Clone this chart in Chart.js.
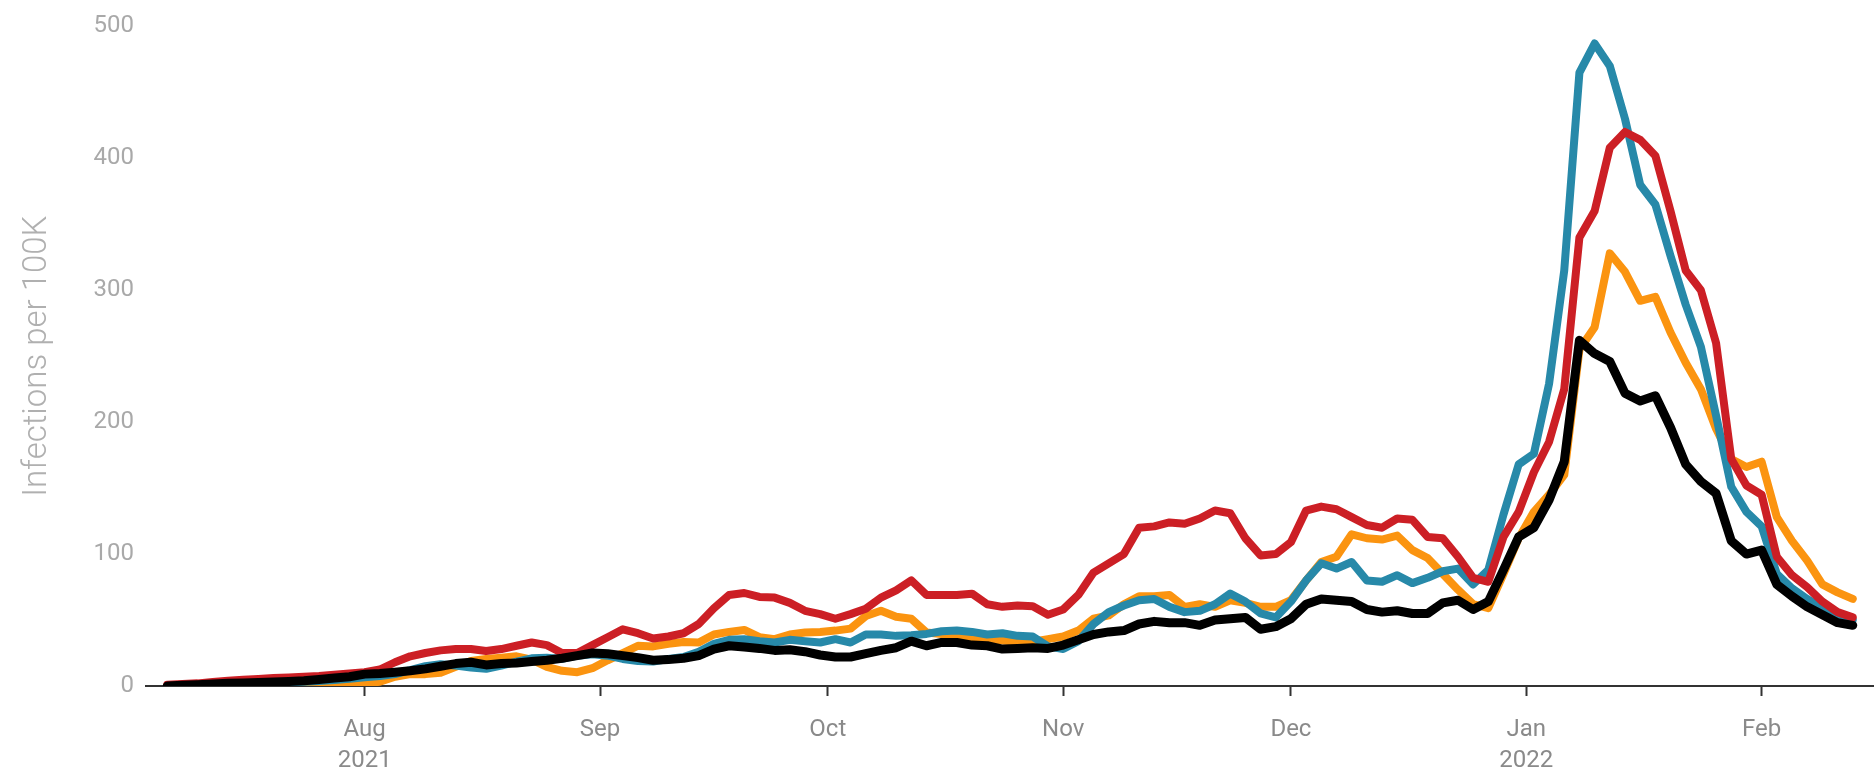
<!DOCTYPE html>
<html>
<head>
<meta charset="utf-8">
<script src="https://cdn.jsdelivr.net/npm/chart.js@4.4.1/dist/chart.umd.min.js"></script>
<style>
  html, body { margin: 0; padding: 0; background: #fff; }
  #wrap { width: 1874px; height: 775px; position: relative; }
</style>
</head>
<body>
<div id="wrap"><canvas id="infections"></canvas></div>
<script>
// one reading every second day, 6 Jul 2021 - 13 Feb 2022
const dates = [
  '2021-07-06','2021-07-08','2021-07-10','2021-07-12','2021-07-14','2021-07-16','2021-07-18','2021-07-20','2021-07-22','2021-07-24','2021-07-26','2021-07-28','2021-07-30',
  '2021-08-01','2021-08-03','2021-08-05','2021-08-07','2021-08-09','2021-08-11','2021-08-13','2021-08-15','2021-08-17','2021-08-19','2021-08-21','2021-08-23','2021-08-25','2021-08-27','2021-08-29','2021-08-31',
  '2021-09-02','2021-09-04','2021-09-06','2021-09-08','2021-09-10','2021-09-12','2021-09-14','2021-09-16','2021-09-18','2021-09-20','2021-09-22','2021-09-24','2021-09-26','2021-09-28','2021-09-30',
  '2021-10-02','2021-10-04','2021-10-06','2021-10-08','2021-10-10','2021-10-12','2021-10-14','2021-10-16','2021-10-18','2021-10-20','2021-10-22','2021-10-24','2021-10-26','2021-10-28','2021-10-30',
  '2021-11-01','2021-11-03','2021-11-05','2021-11-07','2021-11-09','2021-11-11','2021-11-13','2021-11-15','2021-11-17','2021-11-19','2021-11-21','2021-11-23','2021-11-25','2021-11-27','2021-11-29',
  '2021-12-01','2021-12-03','2021-12-05','2021-12-07','2021-12-09','2021-12-11','2021-12-13','2021-12-15','2021-12-17','2021-12-19','2021-12-21','2021-12-23','2021-12-25','2021-12-27','2021-12-29','2021-12-31',
  '2022-01-02','2022-01-04','2022-01-06','2022-01-08','2022-01-10','2022-01-12','2022-01-14','2022-01-16','2022-01-18','2022-01-20','2022-01-22','2022-01-24','2022-01-26','2022-01-28','2022-01-30',
  '2022-02-01','2022-02-03','2022-02-05','2022-02-07','2022-02-09','2022-02-11','2022-02-13'
];

const seriesBlack = [
  0, 0.5, 1, 1.5, 2, 2.3, 2.6, 3, 3.5, 4, 5, 6, 7,
  9, 9.5, 10.5, 11.5, 13, 15, 17, 18, 16, 17, 17.5, 18.5, 19.5, 21, 23, 25,
  24.5, 23, 21.5, 19.5, 20, 21, 23, 28, 30.5, 29.5, 28.5, 27, 27.5, 26, 23.5,
  22, 22, 24.5, 27, 29, 34, 30.5, 33, 33, 31, 30.5, 28, 28.5, 29, 28.5,
  31, 35, 39, 41, 42, 47, 49, 48, 48, 46, 50, 51, 52, 43, 45,
  51, 62, 66, 65, 64, 58, 56, 57, 55, 55, 63, 65, 58, 64, 88, 113,
  120, 141, 170, 262, 252, 246, 222, 216, 220, 196, 168, 155, 146, 110, 100,
  103, 77, 68, 60, 54, 48, 46
];

const seriesRed = [
  1, 1.5, 2, 3, 4, 4.7, 5.3, 6, 6.5, 7, 7.5, 8.5, 9.5,
  10.5, 12.5, 18, 22.5, 25, 27, 28, 28, 26.5, 28, 30.5, 33, 31, 25, 25, 31,
  37, 43, 40, 36, 37.5, 40, 47, 59, 69, 70.5, 67.5, 67, 63, 57, 54.5,
  51, 54.5, 58.5, 67, 72.5, 80, 69, 69, 69, 70, 62, 60, 61, 60.5, 54,
  58, 69, 86, 93, 100, 120, 121, 124, 123, 127, 133, 131, 112, 99, 100,
  109, 133, 136, 134, 128, 122, 120, 127, 126, 113, 112, 98, 82, 79, 113, 132,
  162, 185, 225, 340, 360, 408, 420, 414, 402, 360, 315, 300, 260, 172, 152,
  145, 98, 84, 75, 64, 56, 52
];

const seriesBlue = [
  0, 0.3, 0.6, 1, 1.3, 1.6, 2, 2.4, 2.8, 3.2, 3.8, 4.5, 5.5,
  6.7, 7.5, 9, 12, 15, 16.5, 15.5, 14, 13, 15.5, 18.5, 21, 21.5, 20.5, 23, 24,
  23, 20.5, 19, 18.5, 20.5, 22, 26, 32, 35, 35.5, 34, 33, 35, 34, 33,
  35.5, 33, 39, 39, 38, 38.5, 39.5, 41.5, 42, 41, 39, 40, 38, 37.5, 30,
  28, 34, 47, 56, 61, 65, 66, 60, 56, 57, 62, 70, 64, 55, 52,
  64, 80, 93, 89, 94, 80, 79, 84, 78, 82, 87, 89, 77, 88, 130, 168,
  176, 229, 315, 465, 487, 470, 430, 380, 365, 326, 289, 257, 205, 151, 132,
  121, 85, 74, 66, 59, 53, 50
];

const seriesOrange = [
  0, 0.3, 0.6, 1, 1.2, 1.4, 1.5, 1.5, 1.2, 0.8, 0.3, 0, 0.5,
  2, 3.2, 7, 9, 9, 10, 14.5, 19, 20.4, 21.5, 22.5, 20, 14.5, 11.5, 10.5, 13.5,
  19.5, 25, 30.5, 30, 32, 33.4, 33, 39, 41, 42.5, 37, 35.5, 39, 40.5, 41,
  42, 43.5, 53, 57, 52.5, 51, 40.5, 39.5, 37.5, 35.5, 35.5, 34.5, 33.5, 33.5, 35.5,
  37.5, 42, 51, 53.5, 62, 68, 68, 69, 60, 62, 60, 65, 63, 60, 60,
  65, 80, 94, 98, 115, 112, 111, 114, 103, 97, 85, 73, 62, 59, 85, 112,
  132, 145, 160, 255, 272, 328, 314, 292, 295, 268, 245, 225, 195, 172, 166,
  170, 128, 110, 95, 77, 71, 66
];

const monthTicks = ['2021-08-01', '2021-09-01', '2021-10-01', '2021-11-01', '2021-12-01', '2022-01-01', '2022-02-01'];
const monthTickLabels = [['Aug', '2021'], 'Sep', 'Oct', 'Nov', 'Dec', ['Jan', '2022'], 'Feb'];

const dayZero = Date.parse('2021-07-01');
function dayNumber(iso) {
  return (Date.parse(iso) - dayZero) / 86400000;
}

function toPoints(values) {
  return values.map((v, i) => ({ x: dayNumber(dates[i]), y: v }));
}

function lineSet(label, values, color, width) {
  return {
    label: label,
    data: toPoints(values),
    borderColor: color,
    backgroundColor: color,
    borderWidth: width,
    borderJoinStyle: 'round',
    borderCapStyle: 'round',
    pointRadius: 0,
    tension: 0,
    fill: false
  };
}

Chart.defaults.font.family = 'Roboto, sans-serif';

// first dataset is drawn on top
new Chart(document.getElementById('infections'), {
  type: 'line',
  data: {
    datasets: [
      lineSet('Black', seriesBlack, '#000000', 9),
      lineSet('Red', seriesRed, '#cc1f25', 8),
      lineSet('Blue', seriesBlue, '#2789a9', 8),
      lineSet('Orange', seriesOrange, '#fb9410', 8)
    ]
  },
  options: {
    responsive: true,
    maintainAspectRatio: false,
    animation: false,
    layout: { padding: { top: 24, right: 0, bottom: 0, left: 0 } },
    plugins: {
      legend: { display: false },
      tooltip: { enabled: false }
    },
    scales: {
      x: {
        type: 'linear',
        min: 2.2,
        max: 229.8,
        afterBuildTicks: function (scale) {
          scale.ticks = monthTicks.map(d => ({ value: dayNumber(d) }));
        },
        afterFit: function (scale) {
          scale.height = 89;
        },
        ticks: {
          autoSkip: false,
          maxRotation: 0,
          padding: 18,
          color: '#8a8a8a',
          font: { size: 24, lineHeight: 1.3 },
          callback: function (value, index) {
            return monthTickLabels[index];
          }
        },
        grid: {
          drawOnChartArea: false,
          drawTicks: true,
          tickLength: 10,
          tickColor: '#333333',
          tickWidth: 2
        },
        border: { display: true, color: '#333333', width: 2 }
      },
      y: {
        min: 0,
        max: 500,
        afterFit: function (scale) {
          scale.width = 146;
        },
        ticks: {
          stepSize: 100,
          padding: 12,
          color: '#a9a9a9',
          font: { size: 24 }
        },
        grid: { display: false, drawTicks: false },
        border: { display: false },
        title: {
          display: true,
          text: 'Infections per 100K',
          color: '#b0b0b0',
          font: { size: 33, weight: 300 },
          padding: { top: 18, bottom: 0 }
        }
      }
    }
  }
});
</script>
</body>
</html>
